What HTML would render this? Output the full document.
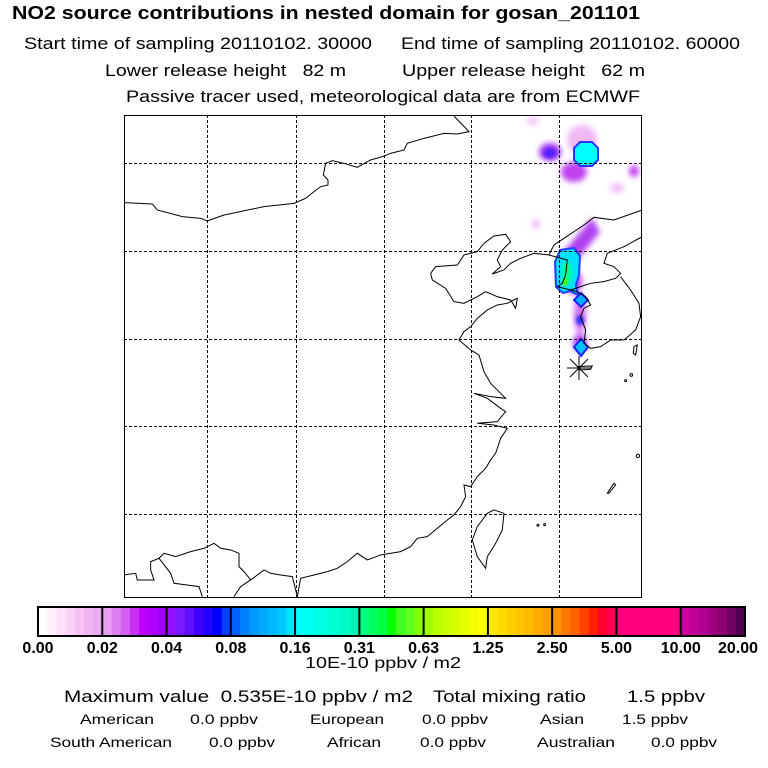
<!DOCTYPE html>
<html><head><meta charset="utf-8">
<style>
html,body{margin:0;padding:0;background:#fff;width:768px;height:768px;overflow:hidden}
body{position:relative;font-family:"Liberation Sans",sans-serif;color:#000}
.t{position:absolute;white-space:pre;line-height:1;transform-origin:0 0}
</style></head><body>
<div class="t" data-w="628" style="left:12px;top:4px;font-size:18px;font-weight:bold">NO2 source contributions in nested domain for gosan_201101</div>
<div class="t" data-w="348" style="left:24px;top:35px;font-size:17px">Start time of sampling 20110102. 30000</div>
<div class="t" data-w="339" style="left:401px;top:35px;font-size:17px">End time of sampling 20110102. 60000</div>
<div class="t" data-w="241" style="left:105px;top:62px;font-size:17px">Lower release height   82 m</div>
<div class="t" data-w="243" style="left:402px;top:62px;font-size:17px">Upper release height   62 m</div>
<div class="t" data-w="514" style="left:126px;top:88px;font-size:17px">Passive tracer used, meteorological data are from ECMWF</div>

<svg id="map" width="768" height="768" style="position:absolute;left:0;top:0">
<defs>
<filter id="bl" x="-50%" y="-50%" width="200%" height="200%"><feGaussianBlur stdDeviation="3"/></filter>
<filter id="bl2" x="-50%" y="-50%" width="200%" height="200%"><feGaussianBlur stdDeviation="1.5"/></filter>
<clipPath id="fc"><rect x="124" y="115" width="518" height="483"/></clipPath>
</defs>
<g clip-path="url(#fc)">
 <g filter="url(#bl)">
  <ellipse cx="582" cy="140" rx="15" ry="15" fill="#f0b8f4"/>
  <ellipse cx="533" cy="121" rx="6" ry="4" fill="#f0c0f6"/>
  <ellipse cx="550" cy="152" rx="11" ry="9" fill="#a030f0"/>
  <ellipse cx="574" cy="172" rx="13" ry="10" fill="#c040f0"/>
  <ellipse cx="634" cy="171" rx="5" ry="6" fill="#c040f0"/>
  <ellipse cx="617" cy="188" rx="7" ry="5" fill="#f0c0f6"/>
  <ellipse cx="536" cy="224" rx="4" ry="6" fill="#f0c0f6"/>
  <path d="M592 218 L600 232 L574 264 L560 256 Z" fill="#b040f0"/>
  <ellipse cx="573" cy="282" rx="9" ry="12" fill="#c040f0"/>
  <ellipse cx="580" cy="314" rx="6" ry="20" fill="#d070f0"/>
  <ellipse cx="580" cy="343" rx="7" ry="9" fill="#b040f0"/>
 </g>
 <polygon points="580,142 592,142 598,148 598,160 592,166 580,166 574,160 574,148" fill="#00ffff" stroke="#3030ff" stroke-width="2"/>
 <g filter="url(#bl2)">
  <ellipse cx="550" cy="153" rx="6" ry="5" fill="#5020ff"/>
  <ellipse cx="580" cy="320" rx="4" ry="5" fill="#3030ff"/>
 </g>
 <path d="M560 250 L574 248 L580 256 L579 275 L576 285 L578 295 L570 291 L563 293 L556 287 L555 262 Z" fill="#00e0ff" stroke="#2040ff" stroke-width="2"/>
 <ellipse cx="567" cy="273" rx="5" ry="12" fill="#00ff90" filter="url(#bl2)"/>
 <ellipse cx="565" cy="282" rx="3" ry="4" fill="#40ff20"/>
 <polygon points="581,293 588,300 581,307 574,300" fill="#00b0ff" stroke="#2020ff" stroke-width="2"/>
 <polygon points="581,339 588,347 581,356 574,347" fill="#00c0ff" stroke="#2020ff" stroke-width="2"/>
</g>
<g transform="translate(124,110) scale(0.3333)" fill="none" stroke="#000" stroke-width="3">
 <path d="M0,278 L85,282 L100,300 L175,320 L230,325 L250,333 L300,315 L420,290 L510,280 L545,265 L570,245 L590,230 L612,225 L612,210 L598,195 L605,160 L625,152 L660,160 L700,172 L740,150 L775,140 L800,130 L840,120 L850,100 L900,85 L960,70 L1000,72 L1035,65 L990,18"/>
 <path d="M1555,300 L1470,330 L1410,322 L1380,345 L1320,385 L1290,405 L1275,435 L1230,430 L1190,445 L1160,460 L1140,480 L1105,492 L1130,470 L1120,450 L1135,420 L1160,395 L1145,373 L1110,378 L1080,400 L1060,425 L1020,435 L1000,465 L935,470 L920,490 L925,510 L965,535 L990,575 L1020,580 L1060,560 L1085,545 L1120,560 L1160,570 L1175,595 L1180,565 L1150,580 L1120,585 L1090,600 L1060,625 L1040,650 L1020,665 L1005,690 L1040,720 L1065,735 L1080,785 L1100,820 L1145,865 L1100,860 L1050,850 L1090,865 L1130,895 L1145,905 L1120,935 L1060,940 L1110,945 L1150,955 L1130,985 L1115,1030 L1100,1050 L1085,1075 L1060,1100 L1040,1130 L1020,1125 L1025,1160 L1010,1190 L990,1215 L970,1230 L940,1255 L910,1280 L880,1285 L860,1310 L830,1325 L770,1335 L730,1350 L700,1330 L670,1355 L640,1375 L610,1385 L570,1395 L530,1405 L520,1460"/>
 <path d="M520,1460 L505,1400 L470,1395 L440,1390 L420,1380 L380,1410 L360,1385 L345,1370 L345,1330 L320,1320 L290,1315 L270,1300 L240,1315 L200,1325 L155,1340 L120,1330 L105,1345 L80,1355 L80,1380 L90,1410 L40,1410 L35,1390 L0,1395"/>
 <path d="M105,1345 L140,1390 L150,1420 L225,1430 L235,1460"/>
 <path d="M330,1460 L350,1430 L380,1410"/>
 <path d="M1275,435 L1330,450 L1325,495 L1315,520 L1300,530 L1340,540 L1370,530 L1400,520 L1440,515 L1475,505 L1490,490 L1470,470 L1440,460 L1450,430 L1500,410 L1555,380"/>
 <path d="M1490,500 L1520,540 L1545,580 L1550,620 L1535,660 L1500,690 L1460,690 L1430,710 L1400,715 L1380,700 L1385,660 L1370,620 L1380,595 L1400,585 L1385,560 L1360,545 L1340,540"/>
 <path d="M1110,1200 L1140,1210 L1135,1260 L1115,1300 L1090,1340 L1085,1375 L1060,1340 L1045,1290 L1060,1250 L1090,1210 Z"/>
 <path d="M1360,770 L1405,768 L1400,778 L1365,780 Z"/>
 <path d="M1530,710 L1540,705 L1535,735 L1528,730 Z"/>
 <circle cx="1522" cy="795" r="4"/><circle cx="1505" cy="812" r="3"/>
 <circle cx="1542" cy="1038" r="5"/><circle cx="1242" cy="1246" r="3"/><circle cx="1262" cy="1244" r="3"/>
 <path d="M1450,1150 L1470,1120 L1475,1125 L1455,1150 Z"/>
</g>
<g stroke="#000" stroke-width="1" stroke-dasharray="3,2">
 <line x1="207.5" y1="115" x2="207.5" y2="598"/><line x1="296.5" y1="115" x2="296.5" y2="598"/>
 <line x1="384.5" y1="115" x2="384.5" y2="598"/><line x1="471.5" y1="115" x2="471.5" y2="598"/>
 <line x1="559.5" y1="115" x2="559.5" y2="598"/>
 <line x1="124" y1="163.5" x2="642" y2="163.5"/><line x1="124" y1="251.5" x2="642" y2="251.5"/>
 <line x1="124" y1="339.5" x2="642" y2="339.5"/><line x1="124" y1="426.5" x2="642" y2="426.5"/>
 <line x1="124" y1="514.5" x2="642" y2="514.5"/>
</g>
<g stroke="#000" stroke-width="1">
 <line x1="579" y1="356" x2="579" y2="380"/><line x1="567" y1="368" x2="591" y2="368"/>
 <line x1="570" y1="359" x2="588" y2="377"/><line x1="588" y1="359" x2="570" y2="377"/>
</g>
<rect x="124.5" y="115.5" width="517" height="482" fill="none" stroke="#000" stroke-width="1"/>
<g id="cbar"></g>
</svg>

<div class="t" data-w="156" style="left:305px;top:656px;font-size:16px">10E-10 ppbv / m2</div>
<div class="t" data-w="349" style="left:64px;top:688px;font-size:17px">Maximum value  0.535E-10 ppbv / m2</div>
<div class="t" data-w="153" style="left:433px;top:688px;font-size:17px">Total mixing ratio</div>
<div class="t" data-w="78" style="left:627px;top:688px;font-size:17px">1.5 ppbv</div>

<div class="t" data-w="74" style="left:80px;top:712px;font-size:14px">American</div>
<div class="t" data-w="68" style="left:190px;top:712px;font-size:14px">0.0 ppbv</div>
<div class="t" data-w="74" style="left:310px;top:712px;font-size:14px">European</div>
<div class="t" data-w="66" style="left:422px;top:712px;font-size:14px">0.0 ppbv</div>
<div class="t" data-w="44" style="left:540px;top:712px;font-size:14px">Asian</div>
<div class="t" data-w="66" style="left:622px;top:712px;font-size:14px">1.5 ppbv</div>

<div class="t" data-w="122" style="left:50px;top:735px;font-size:14px">South American</div>
<div class="t" data-w="66" style="left:209px;top:735px;font-size:14px">0.0 ppbv</div>
<div class="t" data-w="54" style="left:327px;top:735px;font-size:14px">African</div>
<div class="t" data-w="66" style="left:420px;top:735px;font-size:14px">0.0 ppbv</div>
<div class="t" data-w="78" style="left:537px;top:735px;font-size:14px">Australian</div>
<div class="t" data-w="66" style="left:651px;top:735px;font-size:14px">0.0 ppbv</div>

<script>
const levelLabels = ["0.00","0.02","0.04","0.08","0.16","0.31","0.63","1.25","2.50","5.00","10.00","20.00"];
const segColors = [
 ["#ffffff","#fff0fb","#fde2f9","#f9d2f6","#f5c2f3","#f0b4f1","#ecaaf0"],
 ["#e6a0f0","#de80f0","#d460f2","#c830f4","#c000ff","#b000ff","#a000ff"],
 ["#9010ff","#7a18ff","#6010ff","#4000ff","#2000ff","#0000ff","#0040ff"],
 ["#0060ff","#0080ff","#0098ff","#00a8ff","#00b8ff","#00c8ff","#00e0ff"],
 ["#00ffff","#00fff4","#00ffe8","#00ffdc","#00ffd0","#00f8c4","#00f0b8"],
 ["#00ff80","#00ff60","#00ff40","#00ff00","#40ff20","#60ff20","#80ff00"],
 ["#a0ff00","#b8ff00","#c8ff00","#d8ff00","#e8ff00","#f4ff00","#ffff00"],
 ["#ffe800","#ffdc00","#ffd000","#ffc400","#ffb800","#ffac00","#ffa000"],
 ["#ff9000","#ff7800","#ff6000","#ff4000","#ff2000","#ff0030","#ff0050"],
 ["#ff0080","#ff0080","#ff0080","#ff0080","#ff0080","#ff0080","#ff0080"],
 ["#d000a0","#c00098","#b00090","#a00080","#900070","#700060","#500050"]
];
document.querySelectorAll('.t[data-w]').forEach(el=>{
 const w=el.getBoundingClientRect().width;
 const tw=+el.getAttribute('data-w');
 if(w>0) el.style.transform='scaleX('+(tw/w)+')';
});
const NS="http://www.w3.org/2000/svg";
const g=document.getElementById('cbar');
const x0=38,x1=745,y0=607,h=29;
const segW=(x1-x0)/segColors.length;
function xAt(i){return x0+i*segW;}
segColors.forEach((cols,i)=>{
 const sw=segW/cols.length;
 cols.forEach((c,j)=>{
  const r=document.createElementNS(NS,'rect');
  r.setAttribute('x',xAt(i)+j*sw);r.setAttribute('y',y0);
  r.setAttribute('width',sw+0.5);r.setAttribute('height',h);r.setAttribute('fill',c);
  
  
  g.appendChild(r);
 });
});
for(let i=1;i<segColors.length;i++){
 const l=document.createElementNS(NS,'line');
 l.setAttribute('x1',xAt(i));l.setAttribute('x2',xAt(i));l.setAttribute('y1',y0);l.setAttribute('y2',y0+h);
 l.setAttribute('stroke','#000');l.setAttribute('stroke-width','2');
 
 
 g.appendChild(l);
}
const fr=document.createElementNS(NS,'rect');
fr.setAttribute('x',x0);fr.setAttribute('y',y0);fr.setAttribute('width',x1-x0);fr.setAttribute('height',h);
fr.setAttribute('fill','none');fr.setAttribute('stroke','#000');fr.setAttribute('stroke-width','2');


g.appendChild(fr);
levelLabels.forEach((s,i)=>{
 const t=document.createElementNS(NS,'text');
 t.setAttribute('x',i===levelLabels.length-1?x1+13:xAt(i));
 t.setAttribute('y',y0+h+17);
 t.setAttribute('text-anchor',i===levelLabels.length-1?'end':'middle');
 t.setAttribute('font-family','Liberation Sans, sans-serif');t.setAttribute('font-size','16');t.setAttribute('font-weight','bold');
 t.textContent=s;
 
 
 g.appendChild(t);
});
</script>
</body></html>
